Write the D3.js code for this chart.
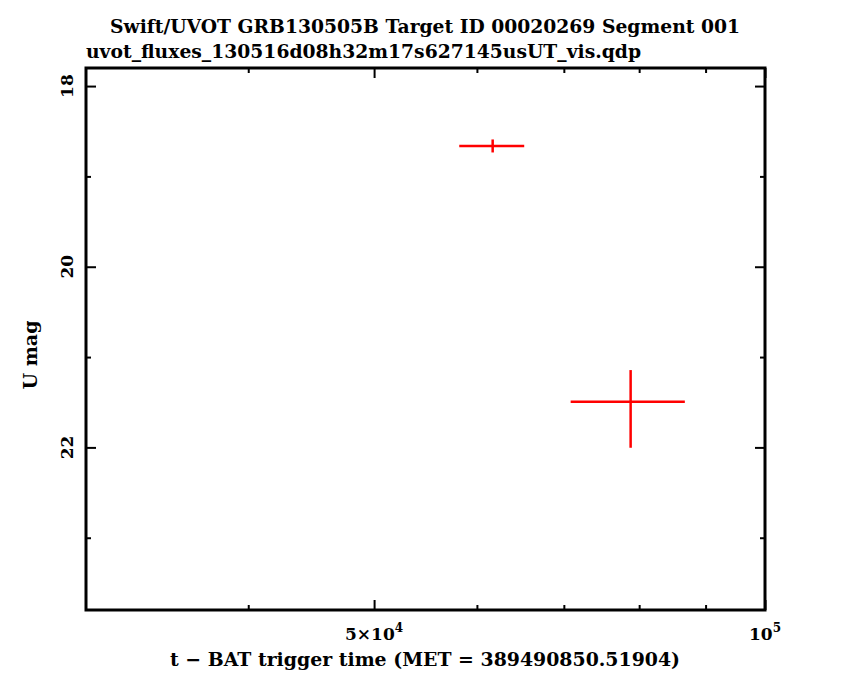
<!DOCTYPE html>
<html>
<head>
<meta charset="utf-8">
<script src="https://cdn.jsdelivr.net/npm/d3@7"></script>
<style>
  body { margin: 0; background: #fff; }
  text { font-family: "DejaVu Serif", serif; fill: #000; font-weight: bold; }
</style>
</head>
<body>
<svg id="chart" width="850" height="680"></svg>
<script>
// data
const titleLines = ["Swift/UVOT GRB130505B Target ID 00020269 Segment 001",
                    "uvot_fluxes_130516d08h32m17s627145usUT_vis.qdp"];
const time = [61700, 78800];          // s since trigger
const timeErr = [3550, 7950];
const umag = [18.663, 21.494];
const umagErrLo = [0.072, 0.35];      // toward brighter
const umagErrHi = [0.072, 0.51];      // toward fainter
const xDomain = [30000, 100000];
const yDomain = [17.8, 23.8];
const xMajor = [50000, 100000];
const xMinor = [40000, 60000, 70000, 80000, 90000];
const yMajor = [18, 20, 22];
const yMinor = [19, 21, 23];

const points = time.map((t, i) => ({
    t: t, dt: timeErr[i], m: umag[i], lo: umagErrLo[i], hi: umagErrHi[i]
}));

const svg = d3.select("#chart");
const pl = 86, pr = 765, pt = 68, pb = 610;

const x = d3.scaleLog().domain(xDomain).range([pl, pr]);
const y = d3.scaleLinear().domain(yDomain).range([pt, pb]);

// titles
svg.append("text")
    .attr("x", 425).attr("y", 33)
    .attr("text-anchor", "middle")
    .attr("font-size", 19)
    .attr("textLength", 630).attr("lengthAdjust", "spacingAndGlyphs")
    .text(titleLines[0]);
svg.append("text")
    .attr("x", 86).attr("y", 58)
    .attr("font-size", 19)
    .attr("textLength", 555).attr("lengthAdjust", "spacingAndGlyphs")
    .text(titleLines[1]);

// ticks on all four sides, pointing inward
function tickAxis(axisFn, scale, values, size, tx, ty) {
    const g = svg.append("g")
        .attr("transform", `translate(${tx},${ty})`)
        .call(axisFn(scale).tickValues(values).tickSize(size).tickFormat(""));
    g.select(".domain").remove();
    g.selectAll(".tick line").attr("stroke", "#000").attr("stroke-width", 2);
}
tickAxis(d3.axisBottom, x, xMajor, -10, 0, pb);
tickAxis(d3.axisBottom, x, xMinor, -5, 0, pb);
tickAxis(d3.axisTop, x, xMajor, -10, 0, pt);
tickAxis(d3.axisTop, x, xMinor, -5, 0, pt);
tickAxis(d3.axisLeft, y, yMajor, -10, pl, 0);
tickAxis(d3.axisLeft, y, yMinor, -5, pl, 0);
tickAxis(d3.axisRight, y, yMajor, -10, pr, 0);
tickAxis(d3.axisRight, y, yMinor, -5, pr, 0);

// frame
svg.append("rect")
    .attr("x", pl).attr("y", pt)
    .attr("width", pr - pl).attr("height", pb - pt)
    .attr("fill", "none").attr("stroke", "#000").attr("stroke-width", 3);

// x tick labels (mantissa x 10^exp)
const xLabels = xMajor.map(v => {
    const e = Math.floor(Math.log10(v) + 1e-9);
    const m = Math.round(v / Math.pow(10, e));
    return { v: v, base: m === 1 ? "10" : m + "\u00d710", exp: e };
});
const xl = svg.append("g").selectAll("text").data(xLabels).join("text")
    .attr("x", d => x(d.v)).attr("y", 640)
    .attr("text-anchor", "middle")
    .attr("font-size", 17);
xl.append("tspan").text(d => d.base);
xl.append("tspan").attr("dy", -8).attr("font-size", 12).text(d => d.exp);

// y tick labels, rotated
svg.append("g").selectAll("text").data(yMajor).join("text")
    .attr("transform", d => `translate(73,${y(d)}) rotate(-90)`)
    .attr("text-anchor", "middle")
    .attr("font-size", 17)
    .text(d => d);

// axis titles
svg.append("text")
    .attr("x", 425).attr("y", 666)
    .attr("text-anchor", "middle")
    .attr("font-size", 19)
    .attr("textLength", 510).attr("lengthAdjust", "spacingAndGlyphs")
    .text("t \u2212 BAT trigger time (MET = 389490850.51904)");
svg.append("text")
    .attr("transform", `translate(37,${(pt + pb) / 2 + 16}) rotate(-90)`)
    .attr("text-anchor", "middle")
    .attr("font-size", 19)
    .text("U mag");

// error bars
const eb = svg.append("g").attr("stroke", "#ff0000").attr("stroke-width", 2.5);
eb.selectAll("line.h").data(points).join("line").attr("class", "h")
    .attr("x1", d => x(d.t - d.dt)).attr("x2", d => x(d.t + d.dt))
    .attr("y1", d => y(d.m)).attr("y2", d => y(d.m));
eb.selectAll("line.v").data(points).join("line").attr("class", "v")
    .attr("x1", d => x(d.t)).attr("x2", d => x(d.t))
    .attr("y1", d => y(d.m - d.lo)).attr("y2", d => y(d.m + d.hi));
</script>
</body>
</html>
